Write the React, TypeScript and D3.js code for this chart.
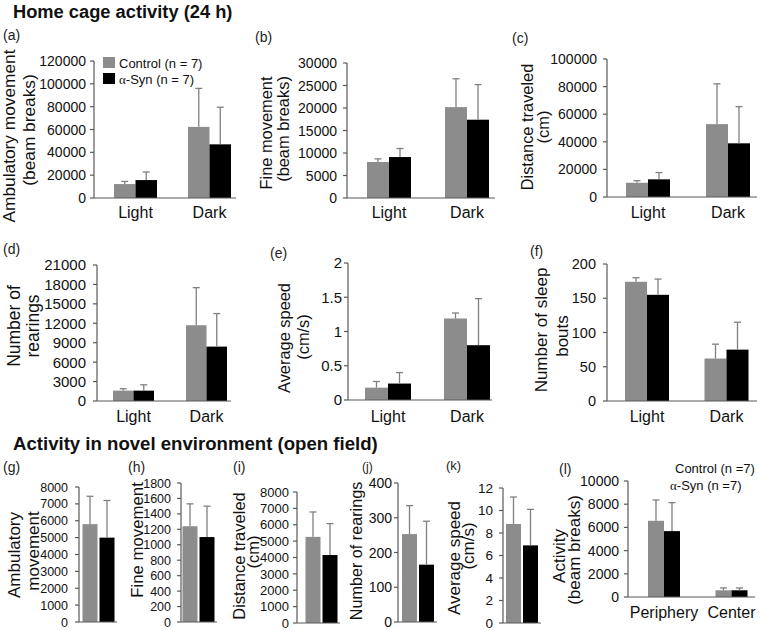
import React from 'react';
import * as d3 from 'd3';

// ---------- data ----------
const lightDark = ['Light', 'Dark'];
const openFieldCat = ['Open field'];
const zoneCats = ['Periphery', 'Center'];

// (a) Ambulatory movement (beam breaks)
const ambCtrl = [12200, 62300];
const ambCtrlErr = [2300, 33700];
const ambSyn = [15700, 47000];
const ambSynErr = [7100, 32500];
// (b) Fine movement
const fineCtrl = [8000, 20200];
const fineCtrlErr = [700, 6300];
const fineSyn = [9100, 17400];
const fineSynErr = [1900, 7800];
// (c) Distance traveled (cm)
const distCtrl = [10300, 52800];
const distCtrlErr = [1500, 29200];
const distSyn = [12800, 38900];
const distSynErr = [4900, 26600];
// (d) Number of rearings
const rearCtrl = [1600, 11700];
const rearCtrlErr = [300, 5800];
const rearSyn = [1600, 8400];
const rearSynErr = [900, 5100];
// (e) Average speed (cm/s)
const speedCtrl = [0.18, 1.19];
const speedCtrlErr = [0.09, 0.08];
const speedSyn = [0.24, 0.8];
const speedSynErr = [0.16, 0.68];
// (f) Number of sleep bouts
const sleepCtrl = [174, 62];
const sleepCtrlErr = [6, 21];
const sleepSyn = [155, 75];
const sleepSynErr = [23, 40];
// (g)-(k) open field
const ofAmbCtrl = [5800];
const ofAmbCtrlErr = [1650];
const ofAmbSyn = [5000];
const ofAmbSynErr = [2200];
const ofFineCtrl = [1240];
const ofFineCtrlErr = [290];
const ofFineSyn = [1100];
const ofFineSynErr = [400];
const ofDistCtrl = [5260];
const ofDistCtrlErr = [1520];
const ofDistSyn = [4150];
const ofDistSynErr = [1920];
const ofRearCtrl = [253];
const ofRearCtrlErr = [82];
const ofRearSyn = [165];
const ofRearSynErr = [125];
const ofSpeedCtrl = [8.8];
const ofSpeedCtrlErr = [2.4];
const ofSpeedSyn = [6.9];
const ofSpeedSynErr = [3.2];
// (l) activity by zone
const zoneCtrl = [6570, 580];
const zoneCtrlErr = [1790, 200];
const zoneSyn = [5680, 580];
const zoneSynErr = [2450, 200];

const legendLabelsTop = ['Control (n = 7)', '-Syn (n = 7)'];
const legendLabelsL = ['Control (n =7)', '-Syn (n =7)'];

// ---------- style ----------
const FONT = '"Liberation Sans", Arial, sans-serif';
const GRAY = '#8c8c8c';
const BLACK = '#000000';
const AXIS = '#595959';
const ERR = '#808080';

type Panel = {
  id: string;
  cats: string[];
  ctrl: number[]; ctrlErr: number[]; syn: number[]; synErr: number[];
  max: number; step: number;
  axisX: number; axisEnd: number; yTop: number; yZero: number;
  centers: [number, number]; barW: number; gap: number;
  tickFont: number; labelGap: number;
  titles: { t: string; x: number; y: number }[]; titleFont: number;
  label: { x: number; y: number; size?: number };
  catLabelY?: number;
};

const panels: Panel[] = [
  {
    id: 'a', cats: lightDark, ctrl: ambCtrl, ctrlErr: ambCtrlErr, syn: ambSyn, synErr: ambSynErr,
    max: 120000, step: 20000, axisX: 94, axisEnd: 236, yTop: 61, yZero: 198,
    centers: [135.5, 209.5], barW: 21.5, gap: 0, tickFont: 14, labelGap: 8,
    titles: [{ t: 'Ambulatory movement', x: 14.5, y: 136 }, { t: '(beam breaks)', x: 35, y: 130 }], titleFont: 17.3,
    label: { x: 3, y: 40 }, catLabelY: 218,
  },
  {
    id: 'b', cats: lightDark, ctrl: fineCtrl, ctrlErr: fineCtrlErr, syn: fineSyn, synErr: fineSynErr,
    max: 30000, step: 5000, axisX: 347, axisEnd: 495, yTop: 63, yZero: 198,
    centers: [389, 467], barW: 22, gap: 0, tickFont: 14, labelGap: 10,
    titles: [{ t: 'Fine movement', x: 272, y: 133 }, { t: '(beam breaks)', x: 289, y: 129 }], titleFont: 16.4,
    label: { x: 255, y: 42 }, catLabelY: 218,
  },
  {
    id: 'c', cats: lightDark, ctrl: distCtrl, ctrlErr: distCtrlErr, syn: distSyn, synErr: distSynErr,
    max: 100000, step: 20000, axisX: 607, axisEnd: 757, yTop: 59, yZero: 197,
    centers: [648, 728], barW: 22, gap: 0, tickFont: 14, labelGap: 10,
    titles: [{ t: 'Distance traveled', x: 533, y: 127 }, { t: '(cm)', x: 549, y: 127 }], titleFont: 16.4,
    label: { x: 512, y: 43 }, catLabelY: 218,
  },
  {
    id: 'd', cats: lightDark, ctrl: rearCtrl, ctrlErr: rearCtrlErr, syn: rearSyn, synErr: rearSynErr,
    max: 21000, step: 3000, axisX: 97, axisEnd: 231, yTop: 265, yZero: 401,
    centers: [133.5, 206.5], barW: 20.5, gap: 0, tickFont: 15, labelGap: 11,
    titles: [{ t: 'Number of', x: 20, y: 326 }, { t: 'rearings', x: 38.5, y: 326 }], titleFont: 17.5,
    label: { x: 3, y: 254 }, catLabelY: 422,
  },
  {
    id: 'e', cats: lightDark, ctrl: speedCtrl, ctrlErr: speedCtrlErr, syn: speedSyn, synErr: speedSynErr,
    max: 2, step: 0.5, axisX: 348, axisEnd: 492, yTop: 263, yZero: 400,
    centers: [388, 467], barW: 23, gap: 0, tickFont: 15, labelGap: 6,
    titles: [{ t: 'Average speed', x: 290, y: 338 }, { t: '(cm/s)', x: 309, y: 337 }], titleFont: 16.4,
    label: { x: 270, y: 258 }, catLabelY: 422,
  },
  {
    id: 'f', cats: lightDark, ctrl: sleepCtrl, ctrlErr: sleepCtrlErr, syn: sleepSyn, synErr: sleepSynErr,
    max: 200, step: 50, axisX: 607, axisEnd: 757, yTop: 264, yZero: 401,
    centers: [647, 726.5], barW: 22, gap: 0, tickFont: 14.5, labelGap: 11,
    titles: [{ t: 'Number of sleep', x: 547, y: 330 }, { t: 'bouts', x: 568, y: 336 }], titleFont: 17,
    label: { x: 530, y: 256 }, catLabelY: 422,
  },
  {
    id: 'g', cats: openFieldCat, ctrl: ofAmbCtrl, ctrlErr: ofAmbCtrlErr, syn: ofAmbSyn, synErr: ofAmbSynErr,
    max: 8000, step: 1000, axisX: 79, axisEnd: 117, yTop: 487, yZero: 622,
    centers: [98.5, 98.5], barW: 15, gap: 2, tickFont: 12.5, labelGap: 11,
    titles: [{ t: 'Ambulatory', x: 20, y: 555 }, { t: 'movement', x: 39, y: 551 }], titleFont: 17,
    label: { x: 3, y: 472 },
  },
  {
    id: 'h', cats: openFieldCat, ctrl: ofFineCtrl, ctrlErr: ofFineCtrlErr, syn: ofFineSyn, synErr: ofFineSynErr,
    max: 1800, step: 200, axisX: 181, axisEnd: 217, yTop: 483, yZero: 622,
    centers: [198.5, 198.5], barW: 15, gap: 2, tickFont: 12.5, labelGap: 10,
    titles: [{ t: 'Fine movement', x: 143, y: 540 }], titleFont: 16.8,
    label: { x: 128, y: 472 },
  },
  {
    id: 'i', cats: openFieldCat, ctrl: ofDistCtrl, ctrlErr: ofDistCtrlErr, syn: ofDistSyn, synErr: ofDistSynErr,
    max: 8000, step: 1000, axisX: 297, axisEnd: 340, yTop: 492, yZero: 623,
    centers: [321.5, 321.5], barW: 15, gap: 2, tickFont: 13, labelGap: 8,
    titles: [{ t: 'Distance traveled', x: 245, y: 556 }, { t: '(cm)', x: 259, y: 552 }], titleFont: 16.5,
    label: { x: 233, y: 472 },
  },
  {
    id: 'j', cats: openFieldCat, ctrl: ofRearCtrl, ctrlErr: ofRearCtrlErr, syn: ofRearSyn, synErr: ofRearSynErr,
    max: 400, step: 100, axisX: 398, axisEnd: 437, yTop: 483, yZero: 622,
    centers: [418, 418], barW: 15, gap: 2, tickFont: 14, labelGap: 6,
    titles: [{ t: 'Number of rearings', x: 362, y: 551 }], titleFont: 16.2,
    label: { x: 362, y: 471, size: 12 },
  },
  {
    id: 'k', cats: openFieldCat, ctrl: ofSpeedCtrl, ctrlErr: ofSpeedCtrlErr, syn: ofSpeedSyn, synErr: ofSpeedSynErr,
    max: 12, step: 2, axisX: 503, axisEnd: 541, yTop: 488, yZero: 623,
    centers: [522, 522], barW: 15, gap: 2, tickFont: 13.5, labelGap: 10,
    titles: [{ t: 'Average speed', x: 460, y: 558 }, { t: '(cm/s)', x: 474, y: 546 }], titleFont: 17,
    label: { x: 446, y: 470, size: 13 },
  },
  {
    id: 'l', cats: zoneCats, ctrl: zoneCtrl, ctrlErr: zoneCtrlErr, syn: zoneSyn, synErr: zoneSynErr,
    max: 10000, step: 2000, axisX: 628, axisEnd: 755, yTop: 481, yZero: 597,
    centers: [664, 731.5], barW: 16, gap: 0, tickFont: 14, labelGap: 9,
    titles: [{ t: 'Activity', x: 565, y: 556 }, { t: '(beam breaks)', x: 580, y: 550 }], titleFont: 17,
    label: { x: 559, y: 474 }, catLabelY: 618,
  },
];

function PanelView({ p }: { p: Panel }) {
  const y = d3.scaleLinear().domain([0, p.max]).range([p.yZero, p.yTop]);
  const x = d3.scalePoint<string>().domain(p.cats).range(p.centers);
  const sub = d3
    .scaleBand<string>()
    .domain(['ctrl', 'syn'])
    .range([-(p.barW + p.gap / 2), p.barW + p.gap / 2])
    .paddingInner(p.gap / (p.barW + p.gap));
  const ticks = d3.range(0, p.max + p.step / 2, p.step);
  const series = [
    { key: 'ctrl', vals: p.ctrl, errs: p.ctrlErr, fill: GRAY },
    { key: 'syn', vals: p.syn, errs: p.synErr, fill: BLACK },
  ];
  const cap = 7;
  return (
    <g>
      <text x={p.label.x} y={p.label.y} fontSize={p.label.size ?? 14} fill="#222">
        ({p.id})
      </text>
      {p.titles.map((t, i) => (
        <text
          key={i}
          transform={`translate(${t.x},${t.y}) rotate(-90)`}
          textAnchor="middle"
          fontSize={p.titleFont}
          fill="#111"
        >
          {t.t}
        </text>
      ))}
      {series.map((s) =>
        p.cats.map((c, i) => {
          const x0 = (x(c) as number) + (sub(s.key) as number);
          return (
            <rect
              key={s.key + c}
              x={x0}
              y={y(s.vals[i])}
              width={sub.bandwidth()}
              height={y(0) - y(s.vals[i])}
              fill={s.fill}
            />
          );
        })
      )}
      {series.map((s) =>
        p.cats.map((c, i) => {
          const cx = (x(c) as number) + (sub(s.key) as number) + sub.bandwidth() / 2;
          const top = y(s.vals[i] + s.errs[i]);
          return (
            <g key={'e' + s.key + c} stroke={ERR} strokeWidth={1.3}>
              <line x1={cx} x2={cx} y1={y(s.vals[i])} y2={top} />
              <line x1={cx - cap / 2} x2={cx + cap / 2} y1={top} y2={top} />
            </g>
          );
        })
      )}
      <line x1={p.axisX} x2={p.axisX} y1={p.yZero} y2={p.yTop} stroke={AXIS} strokeWidth={1.2} />
      {ticks.map((t) => (
        <g key={t}>
          <line x1={p.axisX - 4} x2={p.axisX} y1={y(t)} y2={y(t)} stroke={AXIS} strokeWidth={1.2} />
          <text
            x={p.axisX - p.labelGap}
            y={y(t)}
            dy="0.36em"
            textAnchor="end"
            fontSize={p.tickFont}
            fill="#111"
          >
            {String(t)}
          </text>
        </g>
      ))}
      <line x1={p.axisX} x2={p.axisEnd} y1={p.yZero} y2={p.yZero} stroke={AXIS} strokeWidth={1.2} />
      {p.catLabelY !== undefined &&
        p.cats.map((c) => (
          <text key={'c' + c} x={x(c) as number} y={p.catLabelY} textAnchor="middle" fontSize={16} fill="#111">
            {c}
          </text>
        ))}
    </g>
  );
}

export default function App() {
  return (
    <svg
      width={760}
      height={631}
      viewBox="0 0 760 631"
      style={{ position: 'absolute', left: 0, top: 0, display: 'block', background: '#fff' }}
      fontFamily={FONT}
    >
      <rect x={0} y={0} width={760} height={631} fill="#fff" />
      <text x={13} y={18} fontSize={18.3} fontWeight="bold" fill="#111">
        Home cage activity (24 h)
      </text>
      <text x={13} y={450} fontSize={18.6} fontWeight="bold" fill="#111">
        Activity in novel environment (open field)
      </text>

      <rect x={103} y={57} width={12} height={11} fill={GRAY} />
      <text x={119} y={67.5} fontSize={13} fill="#111">{legendLabelsTop[0]}</text>
      <rect x={103} y={73} width={12} height={11} fill={BLACK} />
      <text x={119} y={83.5} fontSize={13} fill="#111">
        <tspan fontFamily='"Liberation Serif", "DejaVu Serif", serif'>α</tspan>
        {legendLabelsTop[1]}
      </text>

      <text x={675} y={473} fontSize={13} fill="#111">{legendLabelsL[0]}</text>
      <text x={670} y={490} fontSize={13} fill="#111">
        <tspan fontFamily='"Liberation Serif", "DejaVu Serif", serif'>α</tspan>
        {legendLabelsL[1]}
      </text>

      {panels.map((p) => (
        <PanelView key={p.id} p={p} />
      ))}
    </svg>
  );
}
